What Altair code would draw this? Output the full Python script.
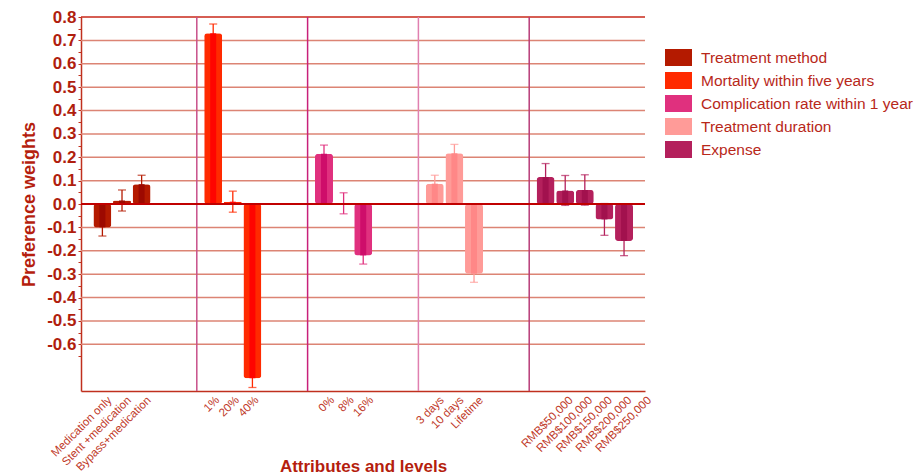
import json
import altair as alt
import pandas as pd

# ---------------- data ----------------
attributes = [
    "Treatment method",
    "Mortality within five years",
    "Complication rate within 1 year",
    "Treatment duration",
    "Expense",
]
levels = [
    ["Medication only", "Stent +medication", "Bypass+medication"],
    ["1%", "20%", "40%"],
    ["0%", "8%", "16%"],
    ["3 days", "10 days", "Lifetime"],
    ["RMB$50,000", "RMB$100,000", "RMB$150,000", "RMB$200,000", "RMB$250,000"],
]
weights = [
    [-0.100, 0.015, 0.085],
    [0.730, 0.010, -0.745],
    [0.215, 0.003, -0.220],
    [0.087, 0.217, -0.298],
    [0.115, 0.058, 0.060, -0.066, -0.158],
]
errors = [
    [0.037, 0.045, 0.038],
    [0.040, 0.045, 0.040],
    [0.037, 0.045, 0.037],
    [0.036, 0.038, 0.037],
    [0.058, 0.064, 0.065, 0.068, 0.063],
]
y_labels = [-0.6, -0.5, -0.4, -0.3, -0.2, -0.1, 0.0, 0.1, 0.2, 0.3, 0.4, 0.5, 0.6, 0.7, 0.8]
y_ticks = [-0.65, -0.6, -0.55, -0.5, -0.45, -0.4, -0.35, -0.3, -0.25, -0.2, -0.15,
           -0.1, -0.05, 0.0, 0.05, 0.1, 0.15, 0.2, 0.25, 0.3, 0.35, 0.4, 0.45,
           0.5, 0.55, 0.6, 0.65, 0.7, 0.75, 0.8]
group_bounds = [1, 2, 3, 4]

# ---------------- styles ----------------
bar_colors = ["#b41a00", "#ff2a00", "#e0307e", "#ff9b98", "#b4205c"]
stripe_colors = ["#9a0800", "#ff0000", "#cc0a68", "#ff8585", "#a0104c"]
sep_colors = ["#c8508a", "#c8207a", "#e080b0", "#b83c78"]
FONT = "Liberation Sans"
RED = "#b8281a"

rows = []
for g, (attr, lv, ws, es) in enumerate(zip(attributes, levels, weights, errors)):
    for j, (name, w, e) in enumerate(zip(lv, ws, es)):
        rows.append({
            "attr": attr,
            "level": name,
            "value": w,
            "lo": round(w - e, 4),
            "hi": round(w + e, 4),
            "pos": round(g + 0.148 + j * 0.177, 3),
        })
df = pd.DataFrame(rows)
positions = df["pos"].tolist()
names = df["level"].tolist()

x_label_expr = f"{json.dumps(names)}[indexof({json.dumps(positions)}, datum.value)]"
y_label_expr = (f"indexof({json.dumps(y_labels)}, datum.value) >= 0 "
                "? replace(format(datum.value, '.1f'), '\u2212', '-') : ''")

x_scale = alt.Scale(domain=[0, 5], nice=False, zero=False)
y_scale = alt.Scale(domain=[-0.8, 0.8], nice=False, zero=False)

x_axis = alt.Axis(
    values=positions,
    labelExpr=x_label_expr,
    labelAngle=-45,
    labelAlign="right",
    labelBaseline="top",
    labelOverlap=False,
    labelFlush=False,
    labelBound=False,
    labelPadding=3,
    labelOffset={"condition": [
        {"test": "datum.value > 4", "value": 21},
        {"test": "datum.value > 2 && datum.value < 3", "value": 4},
        {"test": "datum.value > 1 && datum.value < 2", "value": 0},
    ], "value": 3},
    labelFont=FONT,
    labelFontSize=11.5,
    labelColor="#c03828",
    ticks=False,
    grid=False,
    domainColor="#c0301e",
    domainWidth=1.5,
    title="Attributes and levels",
    titleFont=FONT,
    titleFontSize=17,
    titleFontWeight="bold",
    titleColor="#b51e0e",
    titleY=80,
    titleBaseline="alphabetic",
)

y_axis = alt.Axis(
    values=y_ticks,
    labelExpr=y_label_expr,
    labelOverlap=False,
    labelFlush=False,
    labelFont=FONT,
    labelFontSize=17,
    labelFontWeight="bold",
    labelColor="#b01e0e",
    labelPadding=2,
    tickSize=3,
    tickColor="#c0301e",
    domainColor="#c0301e",
    domainWidth=1.5,
    grid=False,
    title="Preference weights",
    titleFont=FONT,
    titleFontSize=18,
    titleFontWeight="bold",
    titleColor="#b51e0e",
    titlePadding=8,
)

base = alt.Chart(df)
bar_scale = alt.Scale(domain=attributes, range=bar_colors)
X = lambda f: alt.X(f, scale=x_scale, axis=x_axis)
Y = lambda f: alt.Y(f, scale=y_scale, axis=y_axis)

grid_df = pd.DataFrame({"g": y_labels})
gridlines = alt.Chart(grid_df).mark_rule(strokeWidth=1.5).encode(
    y=Y("g:Q"),
    color=alt.condition("datum.g > 0.79", alt.value("#c8281a"), alt.value("#dc8474")),
)

sep_df = pd.DataFrame({"b": group_bounds})
separators = alt.Chart(sep_df).mark_rule(strokeWidth=1.5).encode(
    x=X("b:Q"),
    color=alt.Color("b:N", scale=alt.Scale(domain=group_bounds, range=sep_colors), legend=None),
)

err_rules = base.mark_rule(strokeWidth=1.3).encode(
    x=X("pos:Q"),
    y=Y("lo:Q"),
    y2="hi:Q",
    color=alt.Color("attr:N", scale=bar_scale, legend=None),
)
caps_hi = base.mark_tick(orient="horizontal", size=8, thickness=1.3).encode(
    x=X("pos:Q"),
    y=Y("hi:Q"),
    color=alt.Color("attr:N", scale=bar_scale, legend=None),
)
caps_lo = base.mark_tick(orient="horizontal", size=8, thickness=1.3).encode(
    x=X("pos:Q"),
    y=Y("lo:Q"),
    color=alt.Color("attr:N", scale=bar_scale, legend=None),
)

legend = alt.Legend(
    orient="none",
    legendX=584,
    legendY=27,
    title=None,
    symbolType="M-1,-0.63H1V0.63H-1Z",
    symbolSize=729,
    symbolStrokeWidth=0,
    symbolOpacity=1,
    labelFont=FONT,
    labelFontSize=15.5,
    labelColor=RED,
    labelLimit=400,
    labelOffset=9,
    rowPadding=0,
    padding=0,
)

bars = base.mark_bar(size=18, cornerRadius=3, opacity=1).encode(
    x=X("pos:Q"),
    y=Y("value:Q"),
    color=alt.Color("attr:N", scale=bar_scale, legend=legend),
)
stripes = base.mark_bar(size=6, opacity=0.9).encode(
    x=X("pos:Q"),
    y=Y("value:Q"),
    color=alt.Color("attr:N", scale=alt.Scale(domain=attributes, range=stripe_colors), legend=None),
)

zero_line = alt.Chart(sep_df).mark_rule(color="#c00000", strokeWidth=2).encode(
    y=alt.datum(0, scale=y_scale, axis=y_axis),
)

chart = alt.layer(
    gridlines, separators, err_rules, caps_hi, caps_lo, bars, stripes, zero_line
).resolve_scale(color="independent").properties(
    width=564,
    height=374,
    autosize=alt.AutoSizeParams(type="none"),
    padding={"left": 81, "top": 17, "right": 274, "bottom": 84},
).configure_view(stroke=None)

chart.save("out.html", embed_options={"renderer": "svg", "actions": False})
